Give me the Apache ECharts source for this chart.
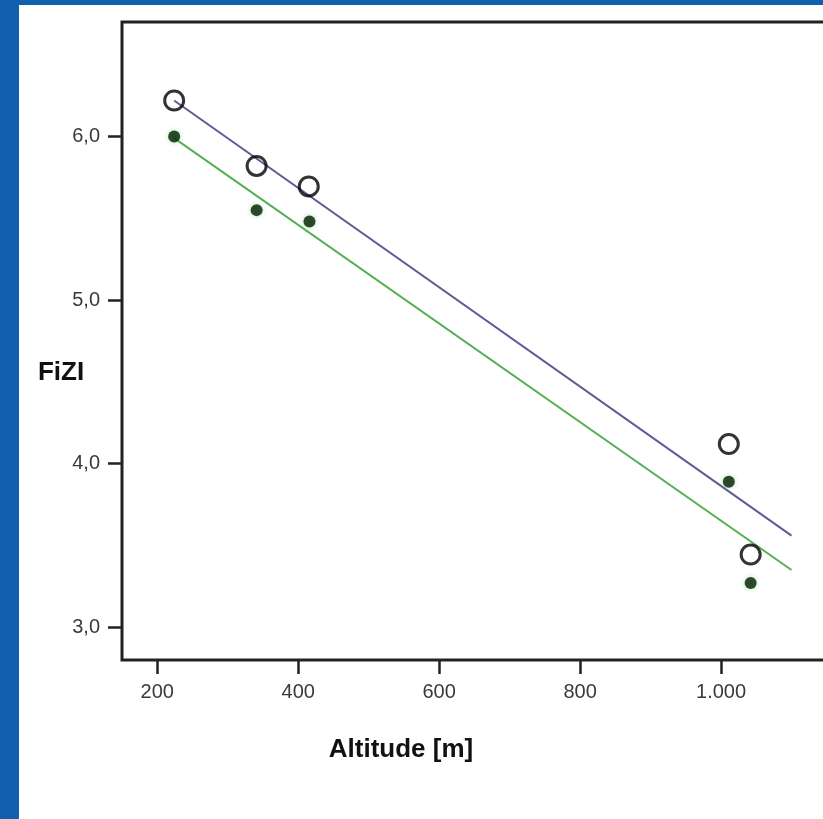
<!DOCTYPE html>
<html>
<head>
<meta charset="utf-8">
<script src="https://cdn.jsdelivr.net/npm/echarts@6/dist/echarts.min.js"></script>
<style>
  html, body { margin: 0; padding: 0; background: #ffffff; overflow: hidden; width: 823px; height: 819px; }
  #wrap { width: 823px; height: 819px; overflow: hidden; position: relative; }
  #chart { width: 900px; height: 819px; position: absolute; left: 0; top: 0; }
</style>
</head>
<body>
<div id="wrap"><div id="chart"></div></div>
<script>
// ---- data ----
const altitudeOpen = [224, 341, 415, 1011, 1042];
const fiziOpen = [6.22, 5.82, 5.695, 4.12, 3.445];
const altitudeFilled = [224, 341, 416, 1011, 1042];
const fiziFilled = [6.0, 5.55, 5.48, 3.89, 3.27];
const fitAltitude = [224, 1100];
const fitOpen = [6.22, 3.56];
const fitFilled = [5.99, 3.35];
const xTicks = [200, 400, 600, 800, 1000];
const yTicks = [3, 4, 5, 6];

const pairs = (xs, ys) => xs.map((x, i) => [x, ys[i]]);

const chart = echarts.init(document.getElementById('chart'), null, { renderer: 'canvas' });

const tickStyle = { color: '#222', width: 2.5 };
const labelFont = { fontFamily: 'Liberation Sans, Arial, sans-serif', fontSize: 20, color: '#3a3a3a' };

chart.setOption({
  backgroundColor: '#ffffff',
  animation: false,
  grid: {
    left: 122, top: 22, width: 740, height: 638,
    outerBoundsMode: 'none', containLabel: false,
    show: true, borderColor: '#222', borderWidth: 3, backgroundColor: 'transparent'
  },
  xAxis: {
    type: 'value', min: 150, max: 1200,
    axisLine: { show: false },
    splitLine: { show: false },
    axisTick: { show: true, length: 14, inside: false, lineStyle: tickStyle, customValues: xTicks },
    axisLabel: Object.assign({
      margin: 22,
      customValues: xTicks,
      formatter: v => v >= 1000 ? Math.floor(v / 1000) + '.' + String(v % 1000).padStart(3, '0') : String(v)
    }, labelFont)
  },
  yAxis: {
    type: 'value', min: 2.8, max: 6.7,
    axisLine: { show: false },
    splitLine: { show: false },
    axisTick: { show: true, length: 14, inside: false, lineStyle: tickStyle, customValues: yTicks },
    axisLabel: Object.assign({
      margin: 22,
      customValues: yTicks,
      formatter: v => v.toFixed(1).replace('.', ',')
    }, labelFont)
  },
  graphic: [
    { type: 'rect', left: 0, top: 0, shape: { width: 19, height: 819 }, style: { fill: '#1160b0' }, z: 100 },
    { type: 'rect', left: 0, top: 0, shape: { width: 900, height: 5 }, style: { fill: '#1160b0' }, z: 100 },
    { type: 'text', x: 61, y: 373, z: 100,
      style: { text: 'FiZI', fill: '#111', font: 'bold 26px "Liberation Sans", Arial, sans-serif', align: 'center', verticalAlign: 'middle' } },
    { type: 'text', x: 401, y: 750, z: 100,
      style: { text: 'Altitude [m]', fill: '#111', font: 'bold 26px "Liberation Sans", Arial, sans-serif', align: 'center', verticalAlign: 'middle' } }
  ],
  series: [
    {
      name: 'fit open', type: 'line', data: pairs(fitAltitude, fitOpen),
      showSymbol: false, symbol: 'none',
      lineStyle: { color: '#5c5c96', width: 2 }, z: 2
    },
    {
      name: 'fit filled', type: 'line', data: pairs(fitAltitude, fitFilled),
      showSymbol: false, symbol: 'none',
      lineStyle: { color: '#55b055', width: 2 }, z: 2
    },
    {
      name: 'open', type: 'scatter', data: pairs(altitudeOpen, fiziOpen),
      symbol: 'circle', symbolSize: 19,
      itemStyle: { color: 'transparent', borderColor: '#000', borderWidth: 3 }, z: 3
    },
    {
      name: 'filled', type: 'scatter', data: pairs(altitudeFilled, fiziFilled),
      symbol: 'circle', symbolSize: 12,
      itemStyle: { color: '#041f04', shadowBlur: 5, shadowColor: 'rgba(90,200,90,0.6)' }, z: 3
    }
  ]
});
</script>
</body>
</html>
